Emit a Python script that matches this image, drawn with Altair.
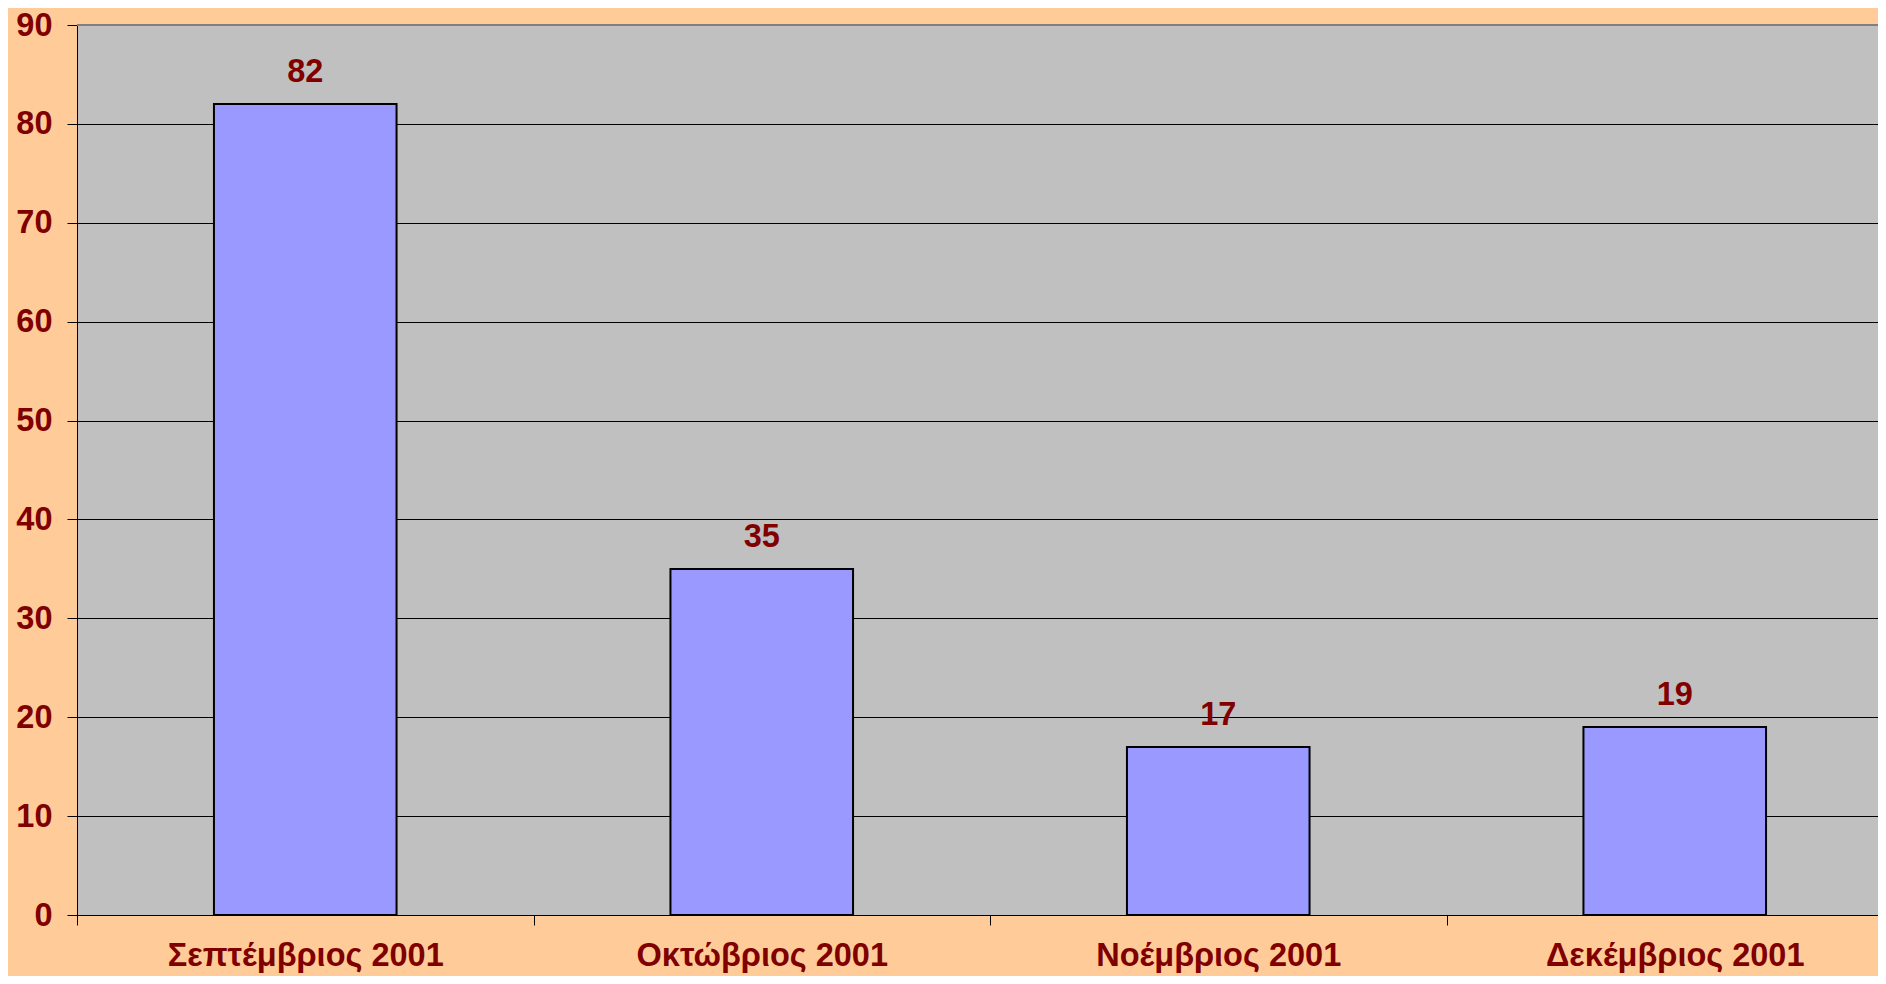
import altair as alt
import pandas as pd

months = ["Σεπτέμβριος 2001", "Οκτώβριος 2001", "Νοέμβριος 2001", "Δεκέμβριος 2001"]
counts = [82, 35, 17, 19]
y_ticks = [0, 10, 20, 30, 40, 50, 60, 70, 80, 90]

df = pd.DataFrame({"month": months, "count": counts})
df["idx"] = range(len(months))
df["x0"] = df["idx"] + 0.3
df["x1"] = df["idx"] + 0.7
df["xc"] = df["idx"] + 0.5
df["base"] = 0

W, H = 1801, 890
step = 456.5
xmax = W / step

maroon = "#800000"
font = "Liberation Sans"
fs = 32.5

label_expr = "[" + ",".join("'" + m + "'" for m in months) + "][datum.value]"

xscale = alt.Scale(domain=[0, xmax], nice=False, zero=False, padding=0)
yscale = alt.Scale(domain=[0, 90], nice=False, padding=0)

xaxis = alt.Axis(
    values=list(range(len(months))), title=None, labelExpr=label_expr,
    labelOffset=step / 2, labelFlush=False, labelOverlap=False, labelBound=False,
    labelLimit=1000,
    grid=False, domainColor="black", domainWidth=1, tickColor="black", tickSize=10,
    labelFont=font, labelFontSize=fs, labelFontWeight="bold", labelColor=maroon,
    labelPadding=14, labelAlign="center",
)
yaxis = alt.Axis(
    values=y_ticks, title=None, grid=True, gridColor="black", gridWidth=1,
    domainColor="black", domainWidth=1, tickColor="black", tickSize=10,
    labelFont=font, labelFontSize=fs, labelFontWeight="bold", labelColor=maroon,
    labelPadding=15, labelFlush=False, labelOverlap=False,
)

base = alt.Chart(df)

bars = base.mark_bar(color="#9999FF", stroke="black", strokeWidth=2).encode(
    x=alt.X("x0:Q", scale=xscale, axis=xaxis),
    x2="x1",
    y=alt.Y("count:Q", scale=yscale, axis=yaxis),
    y2="base",
)

labels = base.mark_text(
    dy=-22, baseline="alphabetic", font=font, fontSize=fs, fontWeight="bold", color=maroon
).encode(
    x=alt.X("xc:Q", scale=xscale, axis=xaxis),
    y=alt.Y("count:Q", scale=yscale, axis=yaxis),
    text="count:Q",
)

top = alt.Chart(df).mark_rule(color="#808080", strokeWidth=2).encode(
    y=alt.YDatum(90, scale=yscale, axis=yaxis),
)

chart = alt.layer(top, bars, labels).properties(
    width=W, height=H,
    autosize=alt.AutoSizeParams(type="none"),
    padding={"left": 69, "top": 17, "right": 0, "bottom": 61},
    background="#FFCC99",
).configure_view(fill="#C0C0C0", stroke="transparent")

chart.save("out.html", embed_options={"renderer": "svg", "actions": False})
